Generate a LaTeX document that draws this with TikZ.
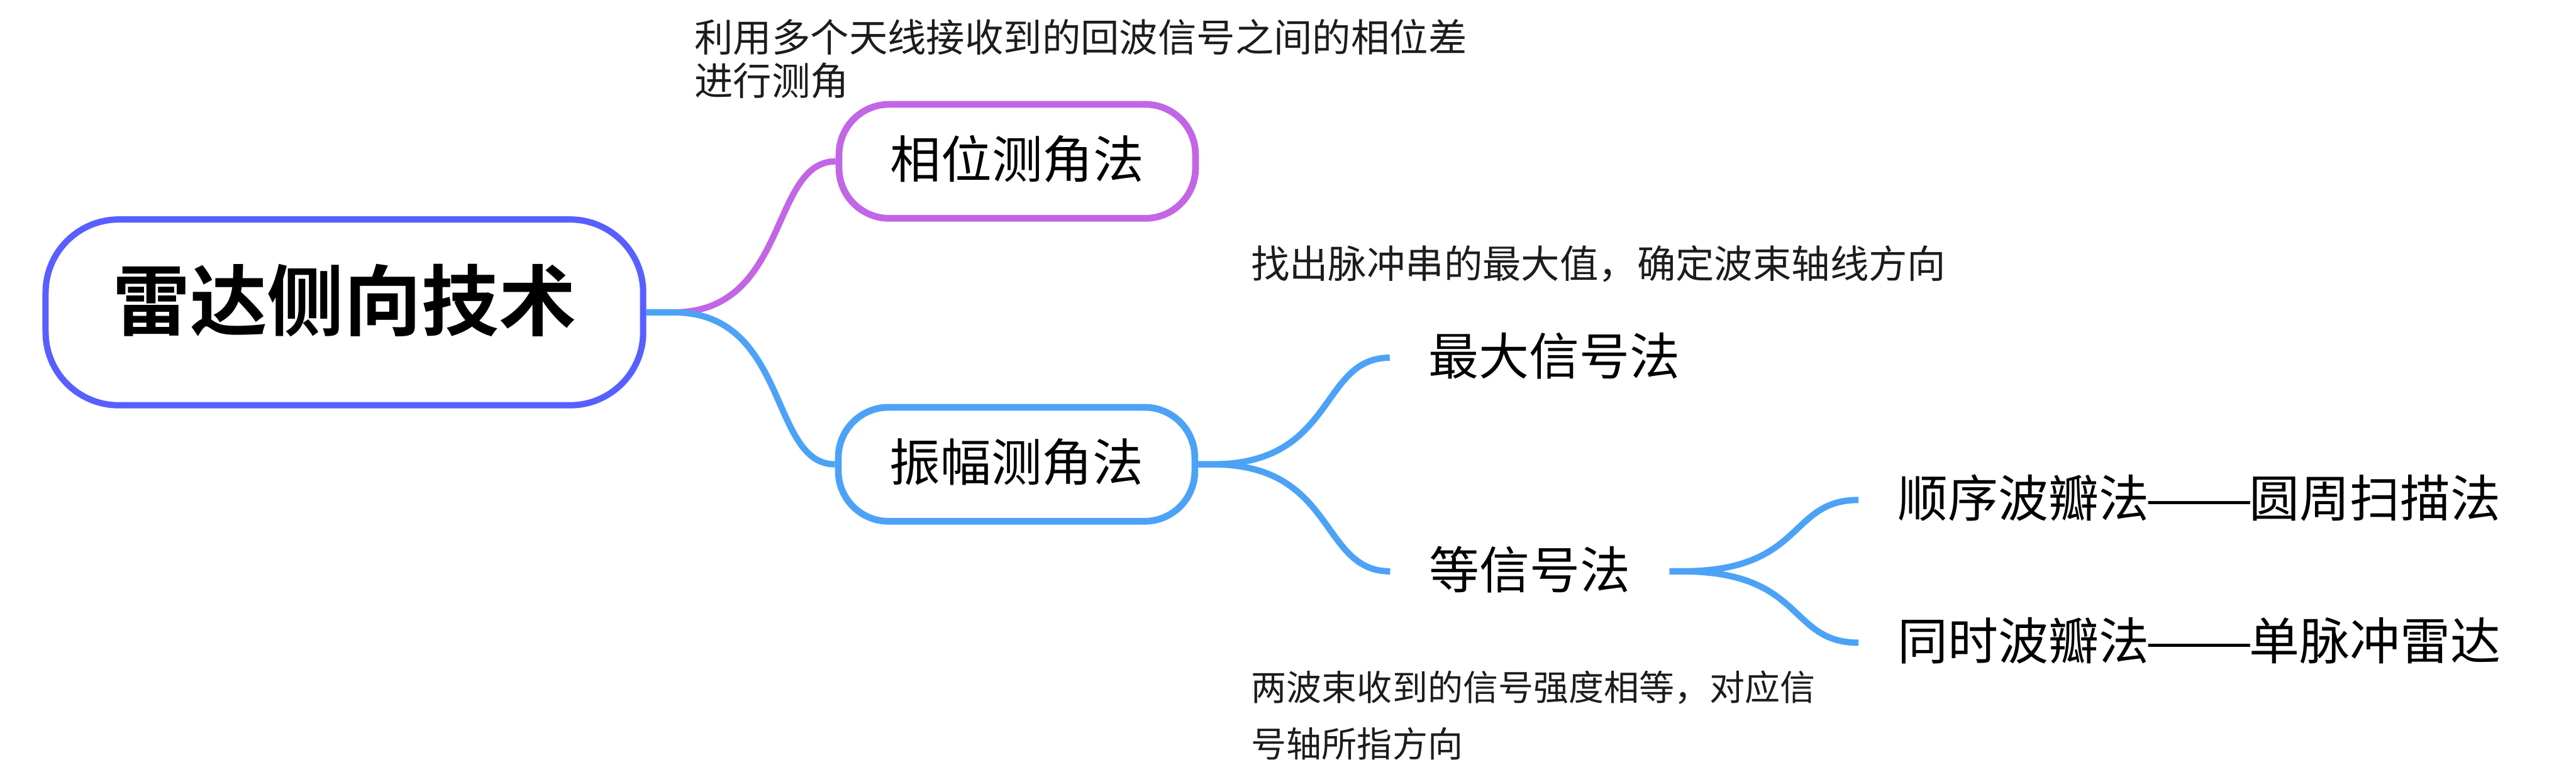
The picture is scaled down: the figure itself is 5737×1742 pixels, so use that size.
\documentclass[tikz,border=0pt]{standalone}
\usepackage{graphicx}
\usepackage{fontspec}
\setmainfont{Noto Sans CJK SC}[BoldFont={Noto Sans CJK SC Bold}]
\usetikzlibrary{backgrounds}
\definecolor{rootc}{RGB}{88,95,255}
\definecolor{purp}{RGB}{194,101,230}
\definecolor{bluec}{RGB}{76,162,246}
\definecolor{notec}{RGB}{28,28,28}
\newcommand{\wdash}{\makebox[2em]{\scalebox{1.28}[1]{——}}}
\tikzset{
  cjk/.style={text height=0.83em, text depth=0.07em},
  rootbox/.style={draw=rootc, line width=1.4pt, fill=white, rounded corners=16.3pt,
    minimum width=133.1pt, minimum height=41.4pt, inner sep=0pt,
    font=\fontsize{17.2}{20}\selectfont\bfseries, cjk},
  mainbox/.style={line width=1.5pt, fill=white, rounded corners=11.2pt,
    minimum width=79.4pt, minimum height=25.4pt, inner sep=0pt,
    font=\fontsize{11.3}{13}\selectfont, cjk},
  leaf/.style={inner xsep=8.5pt, inner ysep=0pt, font=\fontsize{11.2}{13}\selectfont, cjk, anchor=west},
  note/.style={inner sep=0pt, align=left, text=notec},
  conn/.style={line width=1.4pt},
}
\begin{document}
\begin{tikzpicture}[x=0.1pt,y=-0.1pt]
\useasboundingbox (0,0) rectangle (5737,1742);
% nodes
\node[rootbox] (root) at (767,696) {雷达侧向技术};
\node[mainbox, draw=purp] (phase) at (2265.5,359.5) {相位测角法};
\node[mainbox, draw=bluec] (amp) at (2264,1034.5) {振幅测角法};
\node[leaf] (maxs) at (3095,797) {最大信号法};
\node[leaf] (eqs) at (3096,1273) {等信号法};
\node[leaf] (seq) at (4139,1114) {顺序波瓣法\wdash 圆周扫描法};
\node[leaf] (sim) at (4139,1432) {同时波瓣法\wdash 单脉冲雷达};
% notes
\node[note, anchor=north west, font=\fontsize{8.6}{9.6}\selectfont] (n1) at (1545,41)
  {利用多个天线接收到的回波信号之间的相位差\\进行测角};
\node[note, anchor=base west, font=\fontsize{8.6}{9.6}\selectfont] (n2) at (2784,620)
  {找出脉冲串的最大值，确定波束轴线方向};
\node[note, anchor=north west, font=\fontsize{7.85}{12.7}\selectfont] (n3) at (2785,1492)
  {两波束收到的信号强度相等，对应信\\号轴所指方向};
% connectors
\coordinate (f0) at (1500,696);
\coordinate (f1) at (2700,1034.5);
\coordinate (f2) at (3745,1273);
\begin{pgfonlayer}{background}
\draw[conn, purp] (root.east) -- (f0) .. controls +(258,0) and +(-147,0) .. (phase.west);
\draw[conn, bluec] (root.east) -- (f0) .. controls +(258,0) and +(-147,0) .. (amp.west);
\draw[conn, bluec] (amp.east) -- (f1) .. controls +(277,0) and +(-158,0) .. (maxs.west);
\draw[conn, bluec] (amp.east) -- (f1) .. controls +(277,0) and +(-158,0) .. (eqs.west);
\draw[conn, bluec] (eqs.east) -- (f2) .. controls +(276,0) and +(-158,0) .. (seq.west);
\draw[conn, bluec] (eqs.east) -- (f2) .. controls +(276,0) and +(-158,0) .. (sim.west);
\end{pgfonlayer}
\end{tikzpicture}
\end{document}
